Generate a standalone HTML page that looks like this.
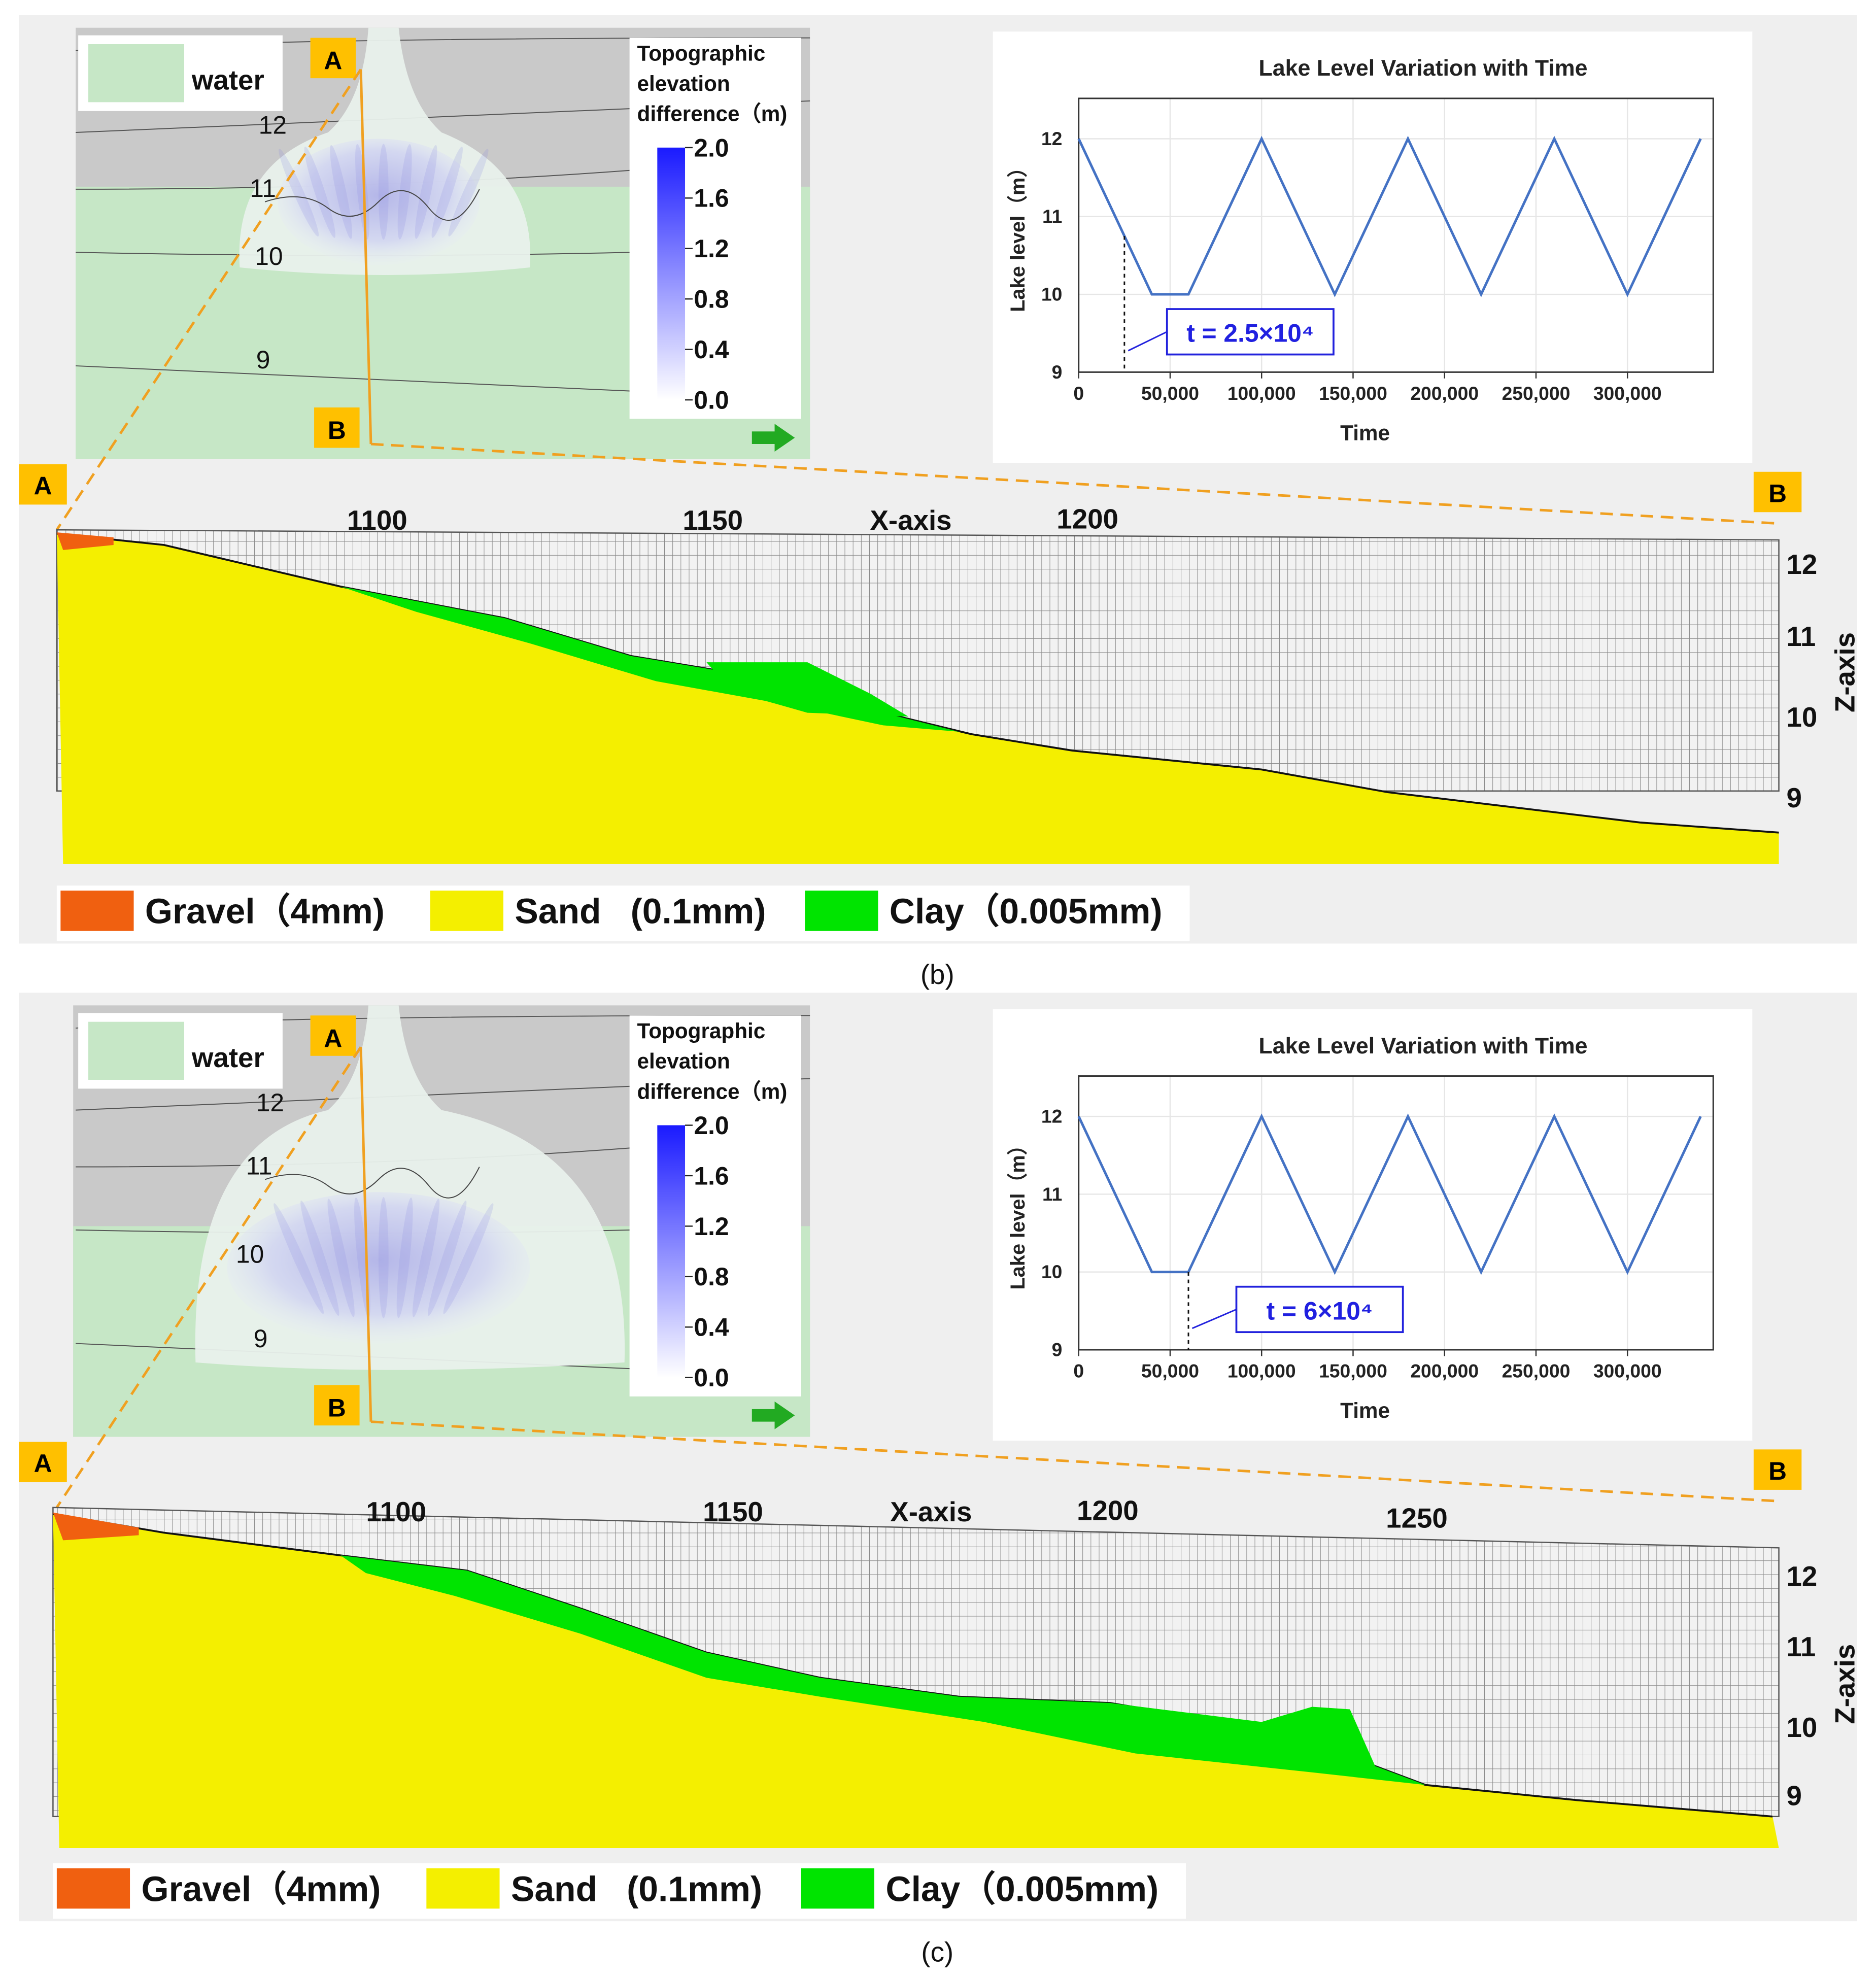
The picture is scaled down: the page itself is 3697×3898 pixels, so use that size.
<!DOCTYPE html>
<html><head><meta charset="utf-8">
<style>
html,body{margin:0;padding:0;background:#fff;}
svg{display:block;}
text{font-family:"Liberation Sans",sans-serif;white-space:pre;}
</style></head>
<body>
<svg id="fig" width="3697" height="3898" viewBox="0 0 1487 1568" preserveAspectRatio="none" xmlns="http://www.w3.org/2000/svg">
<defs>
<pattern id="grid" width="6.5" height="11" patternUnits="userSpaceOnUse">
<rect width="6.5" height="11" fill="#f2f2f2"/>
<path d="M0 0V11M0 0H6.5" stroke="#8a8a8a" stroke-width="0.8"/>
</pattern>
<linearGradient id="cbar" x1="0" y1="1" x2="0" y2="0">
<stop offset="0" stop-color="#ffffff"/><stop offset="1" stop-color="#1a1aff"/>
</linearGradient>
<radialGradient id="fanb" cx="0.5" cy="0.45" r="0.6">
<stop offset="0" stop-color="#a8a8e8"/><stop offset="0.6" stop-color="#cfd2f2"/><stop offset="1" stop-color="#eef3f6" stop-opacity="0"/>
</radialGradient>
</defs>
<g id="root"></g>
</svg>
<script>
// ---- Lake level chart data ----
const timesB = [0, 40000, 60000, 100000, 140000, 180000, 220000, 260000, 300000, 340000];
const levelsB = [12, 10, 10, 12, 10, 12, 10, 12, 10, 12];
const timesC = [0, 40000, 60000, 100000, 140000, 180000, 220000, 260000, 300000, 340000];
const levelsC = [12, 10, 10, 12, 10, 12, 10, 12, 10, 12];
const xTickVals = [0, 50000, 100000, 150000, 200000, 250000, 300000];
const xTickLabels = ["0", "50,000", "100,000", "150,000", "200,000", "250,000", "300,000"];
const yTickVals = [9, 10, 11, 12];
const markerB = 25000;
const markerC = 60000;
// ---- cross section labels ----
const csXTicks = [1100, 1150, 1200, 1250];
const csZTicks = [12, 11, 10, 9];
const cbTicks = ["2.0", "1.6", "1.2", "0.8", "0.4", "0.0"];
const contourLabels = ["12", "11", "10", "9"];

const NS = "http://www.w3.org/2000/svg";
const root = document.getElementById('root');
function el(tag, attrs, parent, txt){
  const e = document.createElementNS(NS, tag);
  for (const k in attrs) e.setAttribute(k, attrs[k]);
  if (txt !== undefined) e.textContent = txt;
  (parent || root).appendChild(e);
  return e;
}

function panel(oy, P){
  const g = el('g', {transform:'translate(0,'+oy+')'});
  
  
  el('rect', {x:15,y:12,width:1457,height:736,fill:'#efefef'}, g);

  // ---- map inset ----
  const m = el('g', {}, g);
  
  
  el('rect', {x:P.mx,y:22,width:642-P.mx,height:342,fill:'#c9c9c9'}, m);
  el('rect', {x:P.mx,y:P.water,width:642-P.mx,height:364-P.water,fill:'#c6e7c6'}, m);
  [['M60 40 Q200 30 642 30'],['M60 105 Q300 95 642 80'],['M60 150 Q300 150 500 135'],['M60 200 Q300 205 500 200'],['M60 290 Q300 300 500 310']].forEach(c=>{
    el('path', {d:c[0],fill:'none',stroke:'#555','stroke-width':0.8}, m);
  });
  // fan
  const f = P.fan;
  el('path', {d:'M292 22 L316 22 Q322 80 350 105 Q'+(f.r+5)+' 135 '+f.r+' '+f.b+' Q305 '+(f.b+12)+' '+f.l+' '+f.b+' Q'+(f.l-5)+' 130 260 105 Q288 80 292 22Z', fill:'#e9f1ec', opacity:0.95}, m);
  el('ellipse', {cx:300,cy:P.fcy,rx:P.frx,ry:P.fry,fill:'url(#fanb)',opacity:0.8}, m);
  for (let i=0;i<9;i++){
    el('ellipse',{cx:240+i*16,cy:P.fcy-8,rx:4,ry:P.fry-12,fill:'#8a8ae0',opacity:0.2,transform:'rotate('+((i-4)*6)+' '+(240+i*16)+' '+P.fcy+')'},m);
  }
  el('path',{d:'M210 160 Q240 150 260 165 T300 160 T340 165 T380 150',fill:'none',stroke:'#444','stroke-width':0.8},m);
  contourLabels.forEach((t,i)=>{
    const pos = P.clab[i];
    el('text',{x:pos[0],y:pos[1],'font-size':20,fill:'#111'},m,t);
  });
  // water legend
  el('rect',{x:62,y:28,width:162,height:60,fill:'#fff'},m);
  el('rect',{x:70,y:35,width:76,height:46,fill:'#c6e7c6'},m);
  el('text',{x:152,y:71,'font-size':22,'font-weight':'bold',fill:'#111'},m,'water');
  // colorbar
  el('rect',{x:499,y:30,width:136,height:302,fill:'#fff'},m);
  ['Topographic','elevation','difference（m)'].forEach((t,i)=>el('text',{x:505,y:48+i*24,'font-size':17,'font-weight':'bold',fill:'#111'},m,t));
  el('rect',{x:521,y:117,width:22,height:200,fill:'url(#cbar)'},m);
  cbTicks.forEach((t,i)=>{
    el('line',{x1:543,x2:549,y1:117+i*40,y2:117+i*40,stroke:'#222'},m);
    el('text',{x:550,y:124+i*40,'font-size':20,'font-weight':'bold',fill:'#111'},m,t);
  });
  el('rect',{x:246,y:30,width:36,height:32,fill:'#ffc000'},m);
  el('text',{x:264,y:55,'font-size':20,'font-weight':'bold','text-anchor':'middle'},m,'A');
  el('rect',{x:249,y:323,width:36,height:32,fill:'#ffc000'},m);
  el('text',{x:267,y:348,'font-size':20,'font-weight':'bold','text-anchor':'middle'},m,'B');
  el('path',{d:'M596 342 L614 342 L614 336 L630 347 L614 358 L614 352 L596 352Z',fill:'#22aa22'},m);
  el('line',{x1:286,y1:55,x2:294,y2:352,stroke:'#f0a020','stroke-width':2},m);
  el('line',{x1:286,y1:55,x2:45,y2:420,stroke:'#f0a020','stroke-width':2,'stroke-dasharray':'10,6'},g);
  el('line',{x1:294,y1:352,x2:1410,y2:415,stroke:'#f0a020','stroke-width':2,'stroke-dasharray':'10,6'},g);
  el('rect',{x:15,y:368,width:38,height:32,fill:'#ffc000'},g);
  el('text',{x:34,y:392,'font-size':20,'font-weight':'bold','text-anchor':'middle'},g,'A');
  el('rect',{x:1390,y:374,width:38,height:32,fill:'#ffc000'},g);
  el('text',{x:1409,y:398,'font-size':20,'font-weight':'bold','text-anchor':'middle'},g,'B');

  // ---- lake chart ----
  const c = el('g',{},g);
  
  
  el('rect',{x:787,y:25,width:602,height:342,fill:'#fff'},c);
  el('text',{x:1128,y:60,'font-size':18,'font-weight':'bold','text-anchor':'middle',fill:'#222'},c,'Lake Level Variation with Time');
  const px0=855, px1=1358, py0=78, py1=295;
  const X = t => px0 + t/340000*(1348-px0);
  const Y = v => 295 - (v-9)/3*(295-110);
  xTickVals.forEach(v=>el('line',{x1:X(v),x2:X(v),y1:py0,y2:py1,stroke:'#e6e6e6'},c));
  yTickVals.forEach(v=>el('line',{x1:px0,x2:px1,y1:Y(v),y2:Y(v),stroke:'#e6e6e6'},c));
  el('rect',{x:px0,y:py0,width:px1-px0,height:py1-py0,fill:'none',stroke:'#333','stroke-width':1.2},c);
  xTickVals.forEach((v,i)=>{
    el('line',{x1:X(v),x2:X(v),y1:py1,y2:py1+5,stroke:'#333'},c);
    el('text',{x:X(v),y:py1+22,'font-size':15,'font-weight':'bold','text-anchor':'middle',fill:'#222'},c,xTickLabels[i]);
  });
  yTickVals.forEach(v=>el('text',{x:px0-13,y:Y(v)+5,'font-size':15,'font-weight':'bold','text-anchor':'end',fill:'#222'},c,String(v)));
  el('text',{x:1082,y:349,'font-size':17,'font-weight':'bold','text-anchor':'middle',fill:'#222'},c,'Time');
  el('text',{x:812,y:186,'font-size':16,'font-weight':'bold','text-anchor':'middle',fill:'#222',transform:'rotate(-90 812 186)'},c,'Lake level（m）');
  const pts = P.times.map((t,i)=>X(t)+','+Y(P.levels[i])).join(' ');
  const line = el('polyline',{points:pts,fill:'none',stroke:'#4472c4','stroke-width':2},c);
  
  
  let mv=12; for(let i=1;i<P.times.length;i++){ if(P.marker<=P.times[i]){const a=P.times[i-1],b=P.times[i];mv=P.levels[i-1]+(P.levels[i]-P.levels[i-1])*(P.marker-a)/(b-a);break;} }
  el('line',{x1:X(P.marker),x2:X(P.marker),y1:Y(mv),y2:py1,stroke:'#111','stroke-dasharray':'3,3','stroke-width':1.2},c);
  el('rect',{x:P.bx,y:245,width:132,height:36,fill:'#fff',stroke:'#2222dd','stroke-width':1.5},c);
  el('text',{x:P.bx+66,y:271,'font-size':20,'font-weight':'bold','text-anchor':'middle',fill:'#2020e0'},c,P.label);
  el('line',{x1:P.bx,x2:X(P.marker)+3,y1:263,y2:278,stroke:'#2222dd','stroke-width':1.2},c);

  // ---- cross section ----
  const s = el('g',{},g);
  
  
  const surf = P.surf.map(p=>p.join(',')).join(' ');
  el('polygon',{points:P.left+','+P.top[0]+' 1410,'+P.top[1]+' 1410,'+P.gridBot+' '+P.left+','+P.gridBot,fill:'url(#grid)',stroke:'#555','stroke-width':1},s);
  el('polygon',{points:surf+' 1410,'+P.bot+' '+(P.left+5)+','+P.bot,fill:'#f4ef00'},s);
  el('polyline',{points:surf,fill:'none',stroke:'#111','stroke-width':1.5},s);
  P.clay.forEach(cl=>el('polygon',{points:cl.map(p=>p.join(',')).join(' '),fill:'#00e400'},s));
  el('polygon',{points:P.gravel.map(p=>p.join(',')).join(' '),fill:'#f06010'},s);
  csXTicks.forEach((v,i)=>{ if(P.xt[i]) el('text',{x:P.xt[i][0],y:P.xt[i][1],'font-size':22,'font-weight':'bold','text-anchor':'middle',fill:'#111'},s,String(v)); });
  el('text',{x:P.xax[0],y:P.xax[1],'font-size':22,'font-weight':'bold','text-anchor':'middle',fill:'#111'},s,'X-axis');
  csZTicks.forEach((v,i)=>el('text',{x:1416,y:P.zt[i],'font-size':22,'font-weight':'bold',fill:'#111'},s,String(v)));
  el('text',{x:1470,y:P.zaxY,'font-size':22,'font-weight':'bold','text-anchor':'middle',fill:'#111',transform:'rotate(-90 1470 '+P.zaxY+')'},s,'Z-axis');

  // ---- legend ----
  const L = el('g',{},g);
  
  
  el('rect',{x:P.left,y:702,width:898,height:44,fill:'#fff'},L);
  [['#f06010','Gravel（4mm)',0],['#f4ef00','Sand\u00a0\u00a0\u00a0(0.1mm)',293],['#00e400','Clay（0.005mm)',590]].forEach(e=>{
    el('rect',{x:P.left+3+e[2],y:706,width:58,height:32,fill:e[0]},L);
    el('text',{x:P.left+70+e[2],y:732,'font-size':28,'font-weight':'bold',fill:'#111'},L,e[1]);
  });
  el('text',{x:743,y:780,'font-size':22,'text-anchor':'middle',fill:'#111','font-family':'Liberation Serif'},g,P.cap);
}

panel(0,{name:'panel-b',mx:60,water:148,fan:{l:190,r:420,b:212},fcy:160,frx:80,fry:50,clab:[[205,106],[198,156],[202,210],[203,292]],
  times:timesB,levels:levelsB,marker:markerB,bx:925,label:'t = 2.5×10⁴',
  left:45,top:[420,428],gridBot:627,bot:685,
  surf:[[45,423],[130,432],[270,465],[400,490],[500,520],[620,540],[700,565],[770,582],[850,595],[1000,610],[1100,628],[1200,640],[1300,652],[1410,660]],
  clay:[[[270,465],[400,490],[500,520],[620,540],[700,565],[760,580],[700,575],[620,558],[520,540],[420,510],[330,485]],[[560,525],[640,525],[690,550],[720,568],[640,565],[580,548]]],
  gravel:[[45,422],[90,426],[90,432],[50,436]],
  xt:[[299,420],[565,420],[862,419]],xax:[722,420],zt:[455,512,576,640],zaxY:533,cap:'(b)'});
panel(775,{name:'panel-c',mx:58,water:197,fan:{l:155,r:495,b:305},fcy:230,frx:120,fry:60,clab:[[203,106],[195,156],[187,226],[201,293]],
  times:timesC,levels:levelsC,marker:markerC,bx:980,label:'t = 6×10⁴',
  left:42,top:[420,452],gridBot:665,bot:690,
  surf:[[42,425],[130,440],[270,458],[370,470],[460,500],[560,535],[650,555],[760,570],[880,575],[1000,595],[1090,625],[1130,640],[1250,652],[1405,665]],
  clay:[[[270,458],[370,470],[460,500],[560,535],[650,555],[760,570],[880,575],[1000,590],[1040,578],[1070,580],[1090,625],[1130,640],[1040,630],[900,615],[780,590],[650,570],[560,555],[460,520],[360,490],[290,472]]],
  gravel:[[42,424],[110,436],[110,442],[50,446]],
  xt:[[314,431],[581,431],[878,430],[1123,436]],xax:[738,431],zt:[482,538,602,656],zaxY:560,cap:'(c)'});
</script>
</body></html>
